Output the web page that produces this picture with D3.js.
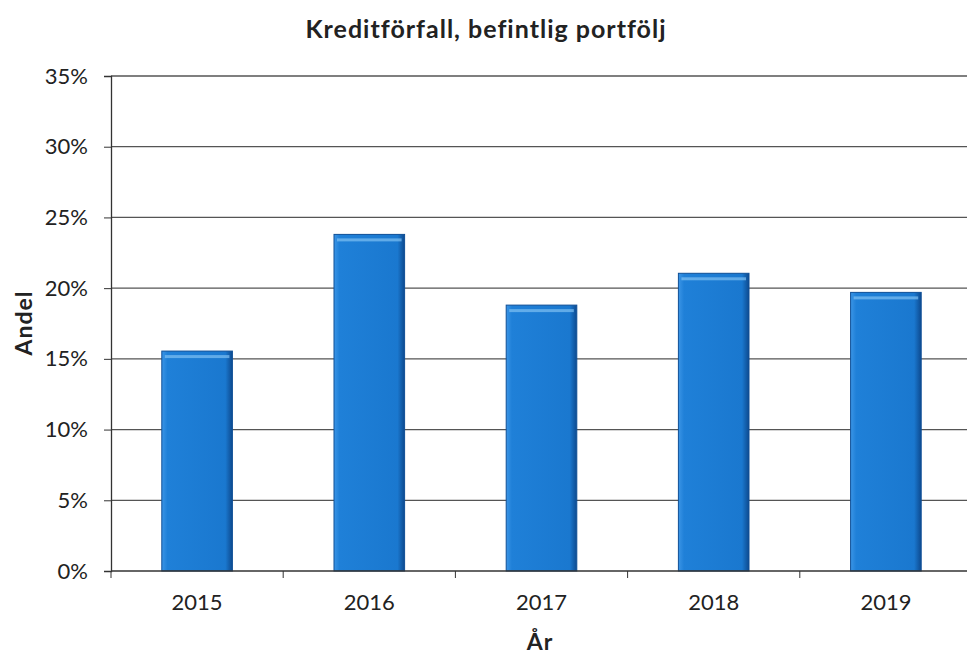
<!DOCTYPE html>
<html>
<head>
<meta charset="utf-8">
<script src="https://cdn.jsdelivr.net/npm/d3@7"></script>
<style>
  body { margin: 0; background: #fff; }
  text { font-family: Lato, "Open Sans", sans-serif; fill: #222; }
</style>
</head>
<body>
<div id="chart"></div>
<script>
var years = ["2015", "2016", "2017", "2018", "2019"];
var andel = [15.55, 23.8, 18.8, 21.05, 19.7];
var yTicks = [0, 5, 10, 15, 20, 25, 30, 35];

function init()
{
    const width = 967;
    const height = 656;
    var margin = {top: 76, right: 0, bottom: 85, left: 111};

    var svg = d3.select("#chart")
        .append("svg")
        .attr("width", width)
        .attr("height", height);

    var defs = svg.append("defs");
    var grad = defs.append("linearGradient")
        .attr("id", "barGrad")
        .attr("x1", 0).attr("x2", 1).attr("y1", 0).attr("y2", 0);
    grad.append("stop").attr("offset", "0%").attr("stop-color", "#3b95e6");
    grad.append("stop").attr("offset", "8%").attr("stop-color", "#1f80d8");
    grad.append("stop").attr("offset", "90%").attr("stop-color", "#1a78cf");
    grad.append("stop").attr("offset", "100%").attr("stop-color", "#0d4a8f");

    var x = d3.scaleBand()
        .domain(years)
        .range([margin.left, width - margin.right + 5])
        .paddingInner(0.59)
        .paddingOuter(0.295);

    var y = d3.scaleLinear()
        .domain([0, 35])
        .range([height - margin.bottom, margin.top]);

    // gridlines
    svg.append("g")
        .selectAll("line")
        .data(yTicks.slice(1))
        .enter()
        .append("line")
        .attr("x1", margin.left)
        .attr("x2", width)
        .attr("y1", function(d){ return y(d); })
        .attr("y2", function(d){ return y(d); })
        .attr("stroke", "#555")
        .attr("stroke-width", 1.3);

    // bars
    var bars = svg.append("g")
        .selectAll("g.bar")
        .data(andel)
        .enter()
        .append("g")
        .attr("class", "bar");

    bars.append("rect")
        .attr("x", function(d, i){ return x(years[i]); })
        .attr("y", function(d){ return y(d); })
        .attr("width", x.bandwidth())
        .attr("height", function(d){ return y(0) - y(d); })
        .attr("fill", "url(#barGrad)")
        .attr("stroke", "#0f4f96")
        .attr("stroke-width", 1);

    // top bevel highlight
    bars.append("rect")
        .attr("x", function(d, i){ return x(years[i]) + 3; })
        .attr("y", function(d){ return y(d) + 4; })
        .attr("width", x.bandwidth() - 6)
        .attr("height", 3)
        .attr("fill", "#7fc0f2")
        .attr("opacity", 0.7);

    // y axis
    var yAxis = d3.axisLeft(y)
        .tickValues(yTicks)
        .tickSize(7)
        .tickPadding(16)
        .tickFormat(function(d){ return d + "%"; });

    var gy = svg.append("g")
        .attr("transform", "translate(" + margin.left + ",0)")
        .call(yAxis);
    gy.select(".domain").attr("stroke", "#333").attr("stroke-width", 1.3);
    gy.selectAll(".tick line").attr("stroke", "#333");
    gy.selectAll("text")
        .style("font-size", "22px")
        .attr("fill", "#222");

    // x axis
    var xAxis = d3.axisBottom(x).tickSize(0).tickPadding(23);
    var gx = svg.append("g")
        .attr("transform", "translate(0," + y(0) + ")")
        .call(xAxis);
    gx.select(".domain").attr("stroke", "#333").attr("stroke-width", 1.3)
        .attr("d", "M" + margin.left + ",0H" + width);
    gx.selectAll("text")
        .style("font-size", "22px")
        .attr("fill", "#222");

    // category boundary ticks
    var step = x.step();
    gx.append("g")
        .selectAll("line")
        .data(years)
        .enter()
        .append("line")
        .attr("x1", function(d){ return x(d) + x.bandwidth() / 2 - step / 2; })
        .attr("x2", function(d){ return x(d) + x.bandwidth() / 2 - step / 2; })
        .attr("y1", 0)
        .attr("y2", 7)
        .attr("stroke", "#333");

    // title
    svg.append("text")
        .attr("x", 486)
        .attr("y", 38)
        .attr("text-anchor", "middle")
        .style("font-size", "25px")
        .style("font-weight", "bold")
        .style("letter-spacing", "1px")
        .text("Kreditförfall, befintlig portfölj");

    // axis titles
    svg.append("text")
        .attr("x", 540)
        .attr("y", 650)
        .attr("text-anchor", "middle")
        .style("font-size", "23px")
        .style("font-weight", "bold")
        .style("letter-spacing", "1px")
        .text("År");

    svg.append("text")
        .attr("transform", "translate(32,323) rotate(-90)")
        .attr("text-anchor", "middle")
        .style("font-size", "23px")
        .style("font-weight", "bold")
        .style("letter-spacing", "1px")
        .text("Andel");
}

init();
</script>
</body>
</html>
